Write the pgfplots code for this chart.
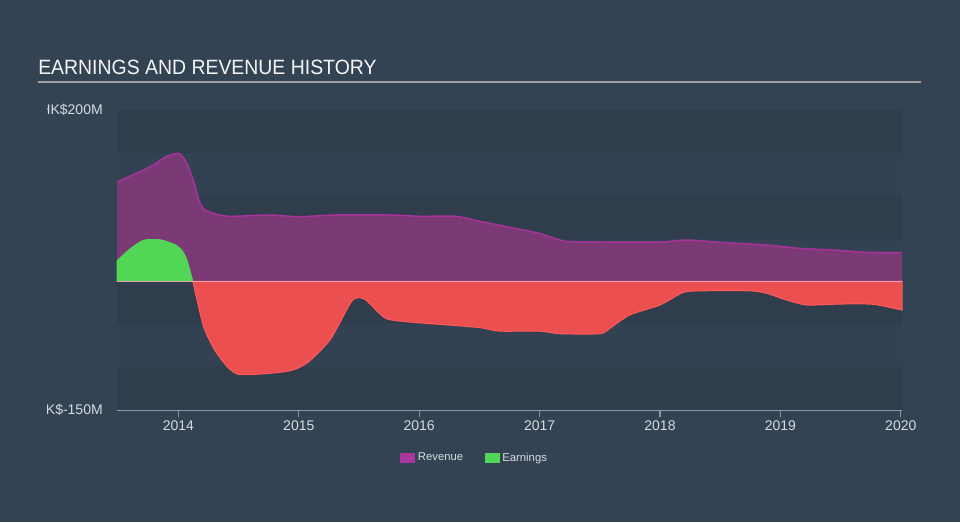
\documentclass[border=0pt]{standalone}
\usepackage{fontspec}
\setmainfont{Liberation Sans}
\newfontfamily\titlefont[FakeStretch=0.94]{Liberation Sans}
\usepackage{pgfplots}
\usepackage{pgfplotstable}
\pgfplotsset{compat=1.18}
\definecolor{bg}{HTML}{344353}
\definecolor{banddark}{HTML}{2F3D4C}
\definecolor{bandlight}{HTML}{334252}
\definecolor{revfill}{HTML}{7B3A76}
\definecolor{revline}{HTML}{A8329C}
\definecolor{legrev}{HTML}{A8369C}
\definecolor{earnpos}{HTML}{52D656}
\definecolor{earnneg}{HTML}{EB4F4F}
\definecolor{earnnegline}{HTML}{FF5A5A}
\definecolor{zeroc}{HTML}{E9A3AE}
\definecolor{txt}{HTML}{D5DAE0}
\definecolor{axisc}{HTML}{8A97A6}

\pgfplotstableread{
x y
2013.49 116
2013.77 134
2013.89 145
2013.99 149.5
2014.02 147.7
2014.07 138
2014.13 115
2014.18 91
2014.24 82
2014.41 76
2014.74 77.5
2015.01 75.5
2015.29 77.5
2015.76 77.5
2016.01 76
2016.30 76
2016.51 70
2016.76 63
2017.00 56
2017.21 47
2017.50 46
2018.00 46
2018.22 48.3
2018.50 45.6
2018.89 42.5
2019.16 38.6
2019.44 36.6
2019.72 34
2020.01 33.5
}\revenue

\pgfplotstableread{
x y
2013.49 24
2013.60 38
2013.71 48
2013.85 48.5
2013.97 43
2014.03 36
2014.07 25
2014.12 0
}\earnpos

\pgfplotstableread{
x y
2014.12 0
2014.21 -53
2014.32 -84
2014.49 -108
2014.90 -105
2015.07 -95
2015.26 -68
2015.43 -25
2015.49 -19
2015.56 -22
2015.72 -43
2015.93 -47.5
2016.26 -51
2016.51 -54
2016.67 -58
2017.00 -58
2017.17 -61
2017.50 -61
2017.59 -54
2017.75 -39
2018.00 -27.5
2018.19 -13
2018.33 -11
2018.75 -11
2018.89 -14
2019.05 -21.7
2019.22 -27.5
2019.49 -26.4
2019.77 -26.7
2020.01 -33.4
}\earnneg

\begin{document}
\begin{tikzpicture}[x=0.75pt,y=0.75pt]
\fill[bg] (0,0) rectangle (960,522);
\node[anchor=base west, text=white!92!gray, font=\titlefont\fontsize{15.5}{16}\selectfont, inner sep=0] at (38,447) {EARNINGS AND REVENUE HISTORY};
\draw[color=gray!75!white, line width=1.5pt] (38,440) -- (921,440);
\begin{axis}[
  at={(87.75pt,84pt)}, anchor=south west,
  width=588.75pt, height=225pt, scale only axis,
  xmin=2013.49, xmax=2020.01, ymin=-150, ymax=200,
  axis x line*=bottom, axis y line=none,
  x axis line style={draw=axisc, line width=1pt, -},
  xtick={2014,2015,2016,2017,2018,2019,2020},
  xticklabels={2014,2015,2016,2017,2018,2019,2020},
  tick align=outside, major tick length=5.25pt,
  x tick style={draw=axisc, line width=1pt},
  x tick label style={text=txt, font=\fontsize{10.5}{11}\selectfont, yshift=1pt},
  /pgf/number format/assume math mode=true,
  legend style={at={(rel axis cs:0.456,-0.16)}, anchor=center, draw=none, fill=none,
    text=txt, font=\fontsize{8.5}{9}\selectfont, legend columns=2,
    /tikz/every even column/.append style={column sep=14pt}},
  legend image code/.code={\fill[#1] (0pt,-4.1pt) rectangle (11.25pt,4.1pt);},
  clip=false,
]
\fill[banddark] (axis cs:2013.49,150) rectangle (axis cs:2020.01,200);
\fill[bandlight] (axis cs:2013.49,100) rectangle (axis cs:2020.01,150);
\fill[banddark] (axis cs:2013.49,50) rectangle (axis cs:2020.01,100);
\fill[bandlight] (axis cs:2013.49,0) rectangle (axis cs:2020.01,50);
\fill[banddark] (axis cs:2013.49,-50) rectangle (axis cs:2020.01,0);
\fill[bandlight] (axis cs:2013.49,-100) rectangle (axis cs:2020.01,-50);
\fill[banddark] (axis cs:2013.49,-150) rectangle (axis cs:2020.01,-100);

\addplot[fill=revfill, draw=none, smooth, tension=0.4, forget plot] table[x=x,y=y] {\revenue} \closedcycle;
\addplot[fill=earnpos, draw=earnpos, line width=0.75pt, smooth, tension=0.4, forget plot] table[x=x,y=y] {\earnpos} \closedcycle;
\addplot[fill=earnneg, draw=earnnegline, line width=0.75pt, smooth, tension=0.4, forget plot] table[x=x,y=y] {\earnneg} \closedcycle;
\addplot[draw=revline, line width=1.1pt, smooth, tension=0.4, forget plot] table[x=x,y=y] {\revenue};
\draw[zeroc, line width=1pt] (axis cs:2013.49,0) -- (axis cs:2020.01,0);

\addlegendimage{fill=legrev, draw=none}
\addlegendentry{Revenue}
\addlegendimage{fill=earnpos, draw=none}
\addlegendentry{Earnings}
\end{axis}
\begin{scope}
\clip (47,0) rectangle (960,522);
\node[anchor=east, text=txt, font=\fontsize{10.5}{11}\selectfont, inner sep=0] at (103,412) {HK\$200M};
\node[anchor=east, text=txt, font=\fontsize{10.5}{11}\selectfont, inner sep=0] at (103,112) {HK\$-150M};
\end{scope}
\end{tikzpicture}
\end{document}
